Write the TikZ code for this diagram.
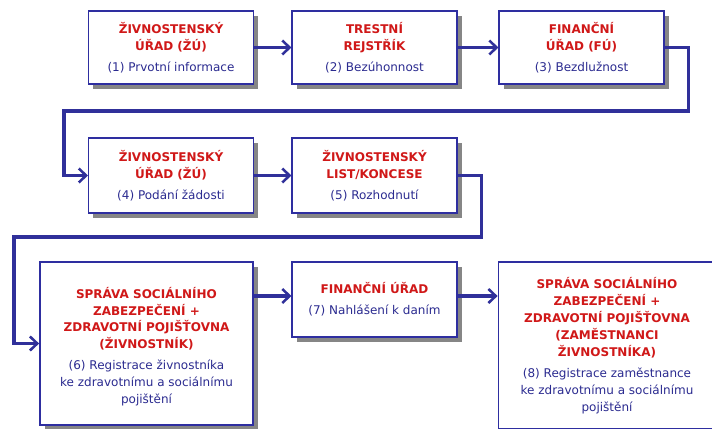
\documentclass[tikz,border=0pt]{standalone}
\usepackage{fontspec}
\setmainfont{DejaVu Sans}
\usetikzlibrary{arrows.meta,shadows}
\definecolor{hdred}{HTML}{D01818}
\definecolor{txblue}{HTML}{2B2B90}
\definecolor{boxblue}{HTML}{2E2EA0}
\definecolor{lnblue}{HTML}{30309A}
\newcommand{\hd}[1]{{\bfseries\color{hdred}#1}}
\tikzset{
  box/.style={draw=boxblue, line width=1.1pt, fill=white, align=center,
    text=txblue, font=\fontsize{9}{12.7}\selectfont,
    minimum width=123.5pt, minimum height=55pt, inner sep=0pt,
    drop shadow={shadow xshift=3.5pt, shadow yshift=-3.8pt, fill=gray!95, opacity=1}},
  link/.style={draw=lnblue, line width=2.3pt, -{Straight Barb[length=5.5pt,width=10.5pt,line width=1.9pt]}},
}
\begin{document}
\begin{tikzpicture}[x=0.75pt,y=-0.75pt]
\clip (0,0) rectangle (712,428);
\fill[white] (0,0) rectangle (712,428);
% first row
\node[box] (b1) at (171,47.5) {\hd{ŽIVNOSTENSKÝ}\\\hd{ÚŘAD (ŽÚ)}\\[3pt](1) Prvotní informace};
\node[box] (b2) at (374.5,47.5) {\hd{TRESTNÍ}\\\hd{REJSTŘÍK}\\[3pt](2) Bezúhonnost};
\node[box] (b3) at (581.5,47.5) {\hd{FINANČNÍ}\\\hd{ÚŘAD (FÚ)}\\[3pt](3) Bezdlužnost};
% second row
\node[box, minimum height=56pt] (b4) at (171,175.5) {\hd{ŽIVNOSTENSKÝ}\\\hd{ÚŘAD (ŽÚ)}\\[3pt](4) Podání žádosti};
\node[box, minimum height=56pt] (b5) at (374.5,175.5) {\hd{ŽIVNOSTENSKÝ}\\\hd{LIST/KONCESE}\\[3pt](5) Rozhodnutí};
% third row
\node[box, minimum width=160pt, minimum height=122pt] (b6) at (146.5,343.5)
  {\rule{0pt}{13pt}\hd{SPRÁVA SOCIÁLNÍHO}\\\hd{ZABEZPEČENÍ +}\\\hd{ZDRAVOTNÍ POJIŠŤOVNA}\\\hd{(ŽIVNOSTNÍK)}\\[3pt]
   (6) Registrace živnostníka\\ke zdravotnímu a sociálnímu\\pojištění};
\node[box, minimum height=56pt] (b7) at (374.5,299.5) {\hd{FINANČNÍ ÚŘAD}\\[3pt](7) Nahlášení k daním};
\node[box, minimum width=163pt, minimum height=125pt] (b8) at (607,345.5)
  {\hd{SPRÁVA SOCIÁLNÍHO}\\\hd{ZABEZPEČENÍ +}\\\hd{ZDRAVOTNÍ POJIŠŤOVNA}\\\hd{(ZAMĚSTNANCI}\\\hd{ŽIVNOSTNÍKA)}\\[3pt]
   (8) Registrace zaměstnance\\ke zdravotnímu a sociálnímu\\pojištění};
% connectors
\draw[link] (b1.east) -- (b2.west);
\draw[link] (b2.east) -- (b3.west);
\draw[link] (b3.east) -- ++(24,0) |- (64,111) |- (b4.west);
\draw[link] (b4.east) -- (b5.west);
\draw[link] (b5.east) -- ++(24,0) |- (14,237) |- (b6.west);
\draw[link] (b6.east |- 0,296) -- (b7.west |- 0,296);
\draw[link] (b7.east |- 0,296) -- (b8.west |- 0,296);
\end{tikzpicture}
\end{document}
